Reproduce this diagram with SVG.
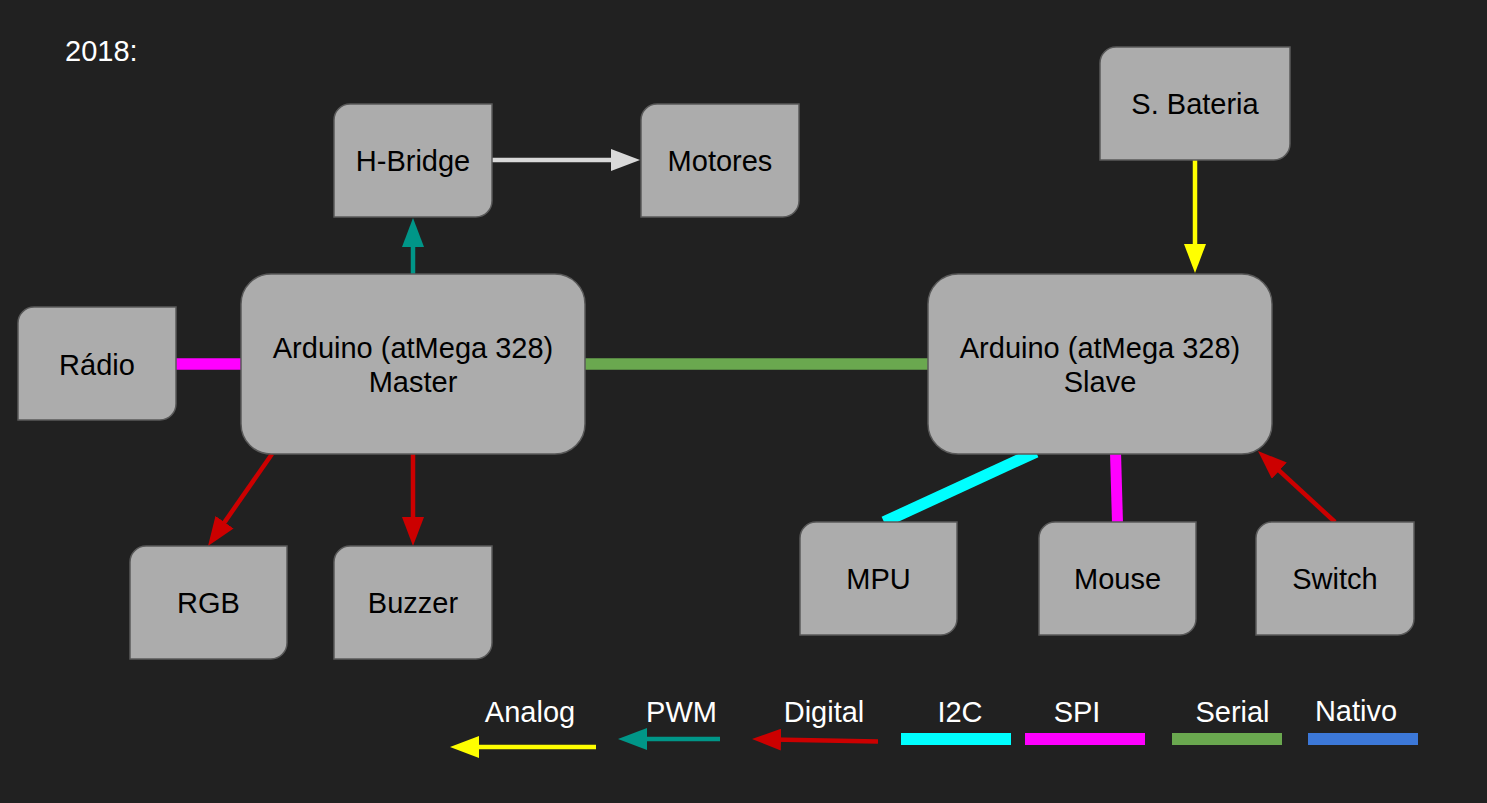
<svg xmlns="http://www.w3.org/2000/svg" width="1487" height="803" viewBox="0 0 1487 803">
<style>
.node{fill:#acacac;stroke:#595959;stroke-width:1.5}
.lbl{font-family:"Liberation Sans",Arial,sans-serif;font-size:29px;fill:#000;text-anchor:middle}
.leg{font-family:"Liberation Sans",Arial,sans-serif;font-size:29px;fill:#fff;text-anchor:middle}
.arr{fill:none;stroke-width:4.5;stroke-linecap:butt}
.bus{fill:none;stroke-linecap:butt}
</style>
<defs>
<marker id="ah-gray" markerUnits="userSpaceOnUse" markerWidth="29" markerHeight="22" refX="9" refY="11" orient="auto" viewBox="0 0 29 22"><path d="M0,0 L29,11 L0,22 Z" fill="#d9d9d9"/></marker>
<marker id="ah-teal" markerUnits="userSpaceOnUse" markerWidth="29" markerHeight="22" refX="9" refY="11" orient="auto" viewBox="0 0 29 22"><path d="M0,0 L29,11 L0,22 Z" fill="#009688"/></marker>
<marker id="ah-yellow" markerUnits="userSpaceOnUse" markerWidth="29" markerHeight="22" refX="9" refY="11" orient="auto" viewBox="0 0 29 22"><path d="M0,0 L29,11 L0,22 Z" fill="#ffff00"/></marker>
<marker id="ah-red" markerUnits="userSpaceOnUse" markerWidth="29" markerHeight="22" refX="9" refY="11" orient="auto" viewBox="0 0 29 22"><path d="M0,0 L29,11 L0,22 Z" fill="#cc0000"/></marker>
</defs>
<rect x="0" y="0" width="1487" height="803" fill="#212121"/>
<text x="65" y="61" class="leg" style="text-anchor:start">2018:</text>

<g id="connectors">
<line class="arr" x1="492" y1="160" x2="620" y2="160" stroke="#d9d9d9" stroke-width="4" marker-end="url(#ah-gray)"/>
<line class="arr" x1="413" y1="274" x2="413" y2="238" stroke="#009688" marker-end="url(#ah-teal)"/>
<line class="arr" x1="1195" y1="160" x2="1195" y2="253" stroke="#ffff00" marker-end="url(#ah-yellow)"/>
<line class="arr" x1="272" y1="454" x2="219.4" y2="529.6" stroke="#cc0000" marker-end="url(#ah-red)"/>
<line class="arr" x1="413" y1="454" x2="413" y2="526" stroke="#cc0000" marker-end="url(#ah-red)"/>
<line class="arr" x1="1335" y1="522" x2="1272.7" y2="464.6" stroke="#cc0000" marker-end="url(#ah-red)"/>
<line class="bus" x1="176" y1="364" x2="241" y2="364" stroke="#ff00ff" stroke-width="11.5"/>
<line class="bus" x1="585" y1="364" x2="928" y2="364" stroke="#6aa84f" stroke-width="11.5"/>
<line class="bus" x1="1036" y1="452" x2="884" y2="522" stroke="#00ffff" stroke-width="11.5"/>
<line class="bus" x1="1115.5" y1="452" x2="1117.5" y2="523" stroke="#ff00ff" stroke-width="11"/>
</g>

<g id="node-hbridge"><path class="node" d="M350,104 H492 V201 A16,16 0 0 1 476,217 H334 V120 A16,16 0 0 1 350,104 Z"/><text class="lbl" x="413" y="171">H-Bridge</text></g>
<g id="node-motores"><path class="node" d="M657,104 H799 V201 A16,16 0 0 1 783,217 H641 V120 A16,16 0 0 1 657,104 Z"/><text class="lbl" x="720" y="171">Motores</text></g>
<g id="node-bateria"><path class="node" d="M1116,47 H1290 V144 A16,16 0 0 1 1274,160 H1100 V63 A16,16 0 0 1 1116,47 Z"/><text class="lbl" x="1195" y="114">S. Bateria</text></g>
<g id="node-radio"><path class="node" d="M34,307 H176 V404 A16,16 0 0 1 160,420 H18 V323 A16,16 0 0 1 34,307 Z"/><text class="lbl" x="97" y="374.5">Rádio</text></g>
<g id="node-master"><rect class="node" x="241" y="274" width="344" height="180" rx="30" ry="30"/><text class="lbl" x="413" y="357.5">Arduino (atMega 328)</text><text class="lbl" x="413" y="391.5">Master</text></g>
<g id="node-slave"><rect class="node" x="928" y="274" width="344" height="180" rx="30" ry="30"/><text class="lbl" x="1100" y="357.5">Arduino (atMega 328)</text><text class="lbl" x="1100" y="391.5">Slave</text></g>
<g id="node-rgb"><path class="node" d="M146,546 H287 V643 A16,16 0 0 1 271,659 H130 V562 A16,16 0 0 1 146,546 Z"/><text class="lbl" x="208.5" y="613">RGB</text></g>
<g id="node-buzzer"><path class="node" d="M350,546 H492 V643 A16,16 0 0 1 476,659 H334 V562 A16,16 0 0 1 350,546 Z"/><text class="lbl" x="413" y="613">Buzzer</text></g>
<g id="node-mpu"><path class="node" d="M816,522 H957 V619 A16,16 0 0 1 941,635 H800 V538 A16,16 0 0 1 816,522 Z"/><text class="lbl" x="878.5" y="589">MPU</text></g>
<g id="node-mouse"><path class="node" d="M1055,522 H1196 V619 A16,16 0 0 1 1180,635 H1039 V538 A16,16 0 0 1 1055,522 Z"/><text class="lbl" x="1117.5" y="589">Mouse</text></g>
<g id="node-switch"><path class="node" d="M1272,522 H1414 V619 A16,16 0 0 1 1398,635 H1256 V538 A16,16 0 0 1 1272,522 Z"/><text class="lbl" x="1335" y="589">Switch</text></g>

<g id="legend">
<text class="leg" x="530" y="722">Analog</text>
<text class="leg" x="681.5" y="722">PWM</text>
<text class="leg" x="824" y="722">Digital</text>
<text class="leg" x="960" y="722">I2C</text>
<text class="leg" x="1077" y="722">SPI</text>
<text class="leg" x="1232.5" y="722">Serial</text>
<text class="leg" x="1356" y="721">Nativo</text>
<line class="arr" x1="596" y1="747" x2="470" y2="747" stroke="#ffff00" marker-end="url(#ah-yellow)"/>
<line class="arr" x1="720" y1="739" x2="638" y2="739" stroke="#009688" marker-end="url(#ah-teal)"/>
<line class="arr" x1="878" y1="741.5" x2="772" y2="739.4" stroke="#cc0000" marker-end="url(#ah-red)"/>
<rect x="901" y="733" width="110" height="12" fill="#00ffff"/>
<rect x="1025" y="733" width="120" height="12" fill="#ff00ff"/>
<rect x="1172" y="733" width="110" height="12" fill="#6aa84f"/>
<rect x="1308" y="733" width="110" height="12" fill="#3c78d8"/>
</g>
</svg>
